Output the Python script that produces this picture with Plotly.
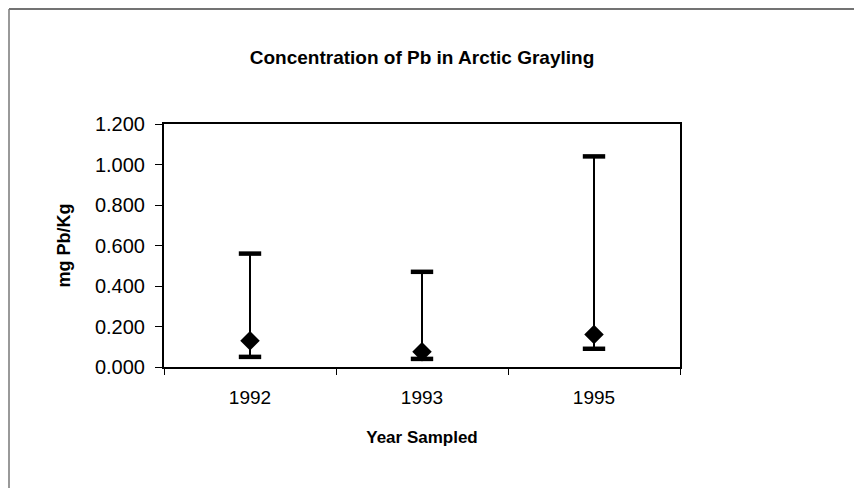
import plotly.graph_objects as go

# Data
years = ['1992', '1993', '1995']
pb_mean = [0.13, 0.075, 0.16]
pb_min = [0.05, 0.04, 0.09]
pb_max = [0.56, 0.47, 1.04]

y_ticks = [0.0, 0.2, 0.4, 0.6, 0.8, 1.0, 1.2]

FONT = 'Liberation Sans, Arial, sans-serif'

# Figure geometry (page body adds an 8px margin)
W, H = 854, 480
L, T, PW, PH = 156, 116, 516, 243

err_plus = [hi - m for hi, m in zip(pb_max, pb_mean)]
err_minus = [m - lo for m, lo in zip(pb_mean, pb_min)]

fig = go.Figure()

# Range whiskers
fig.add_trace(go.Scatter(
    x=years, y=pb_mean, mode='markers',
    marker=dict(symbol='diamond', size=15, color='black'),
    error_y=dict(type='data', symmetric=False, array=err_plus, arrayminus=err_minus,
                 color='black', thickness=2, width=0),
    showlegend=False,
))

# Thick caps at min and max
fig.add_trace(go.Scatter(
    x=years + years, y=pb_min + pb_max, mode='markers',
    marker=dict(symbol='line-ew', size=16, line=dict(color='black', width=4.5)),
    showlegend=False,
))

fig.update_layout(
    width=W, height=H,
    margin=dict(l=L, r=W - L - PW, t=T, b=H - T - PH),
    paper_bgcolor='white', plot_bgcolor='white',
    font=dict(family=FONT, color='black'),
    title=dict(text='<b>Concentration of Pb in Arctic Grayling</b>',
               x=(L + PW / 2) / W, xanchor='center',
               y=1 - 49 / H, yanchor='middle', yref='container',
               font=dict(size=19, family=FONT, color='black')),
    xaxis=dict(
        type='category', range=[-0.5, 2.5], tickson='boundaries',
        ticks='outside', ticklen=6, tickcolor='black', tickwidth=1,
        showline=True, linecolor='black', linewidth=2, mirror=True,
        showgrid=False, zeroline=False,
        tickfont=dict(size=19), ticklabelstandoff=12,
        title=dict(text='<b>Year Sampled</b>', font=dict(size=17), standoff=24),
    ),
    yaxis=dict(
        range=[0, 1.2], tickvals=y_ticks, tickformat='.3f',
        ticks='outside', ticklen=7, tickcolor='black', tickwidth=1,
        showline=True, linecolor='black', linewidth=2, mirror=True,
        showgrid=False, zeroline=False,
        tickfont=dict(size=20), ticklabelstandoff=6,
        title=dict(text='<b>mg Pb/Kg</b>', font=dict(size=18), standoff=20),
    ),
    shapes=[
        # outer frame (top and left edges visible in the scan)
        dict(type='line', xref='paper', yref='paper',
             x0=(1 - L) / PW, x1=(W - L) / PW,
             y0=(T + PH - 1) / PH, y1=(T + PH - 1) / PH,
             line=dict(color='#444444', width=1.5)),
        dict(type='line', xref='paper', yref='paper',
             x0=(1 - L) / PW, x1=(1 - L) / PW,
             y0=(T + PH - 1) / PH, y1=(T + PH - H) / PH,
             line=dict(color='#777777', width=1.5)),
    ],
)

fig.write_html('out.html')
